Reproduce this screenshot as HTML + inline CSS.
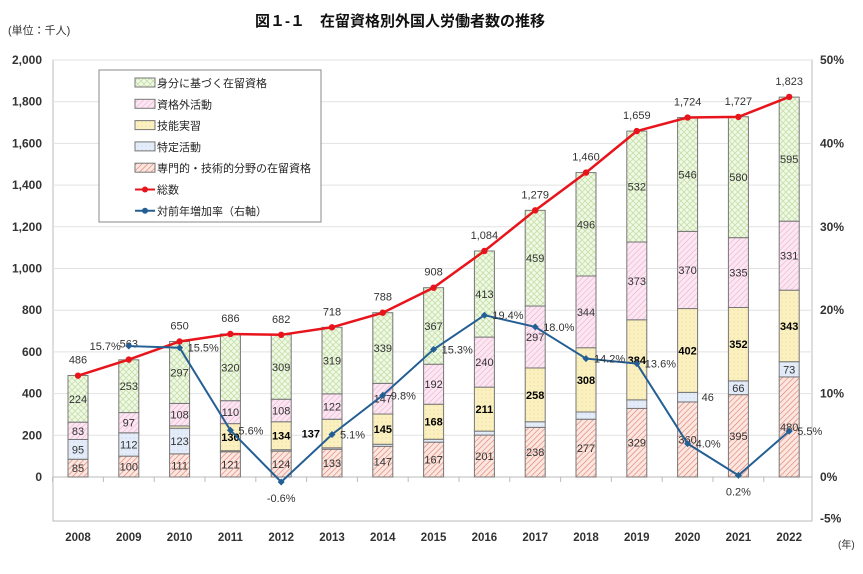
<!DOCTYPE html>
<html><head><meta charset="utf-8">
<style>
body{margin:0;background:#fff;}
svg text{font-family:"Liberation Sans","Noto Sans CJK JP",sans-serif;}
</style></head>
<body>
<svg id="chart" width="863" height="569" xmlns="http://www.w3.org/2000/svg">
<defs>
<pattern id="pRed" width="4" height="4" patternUnits="userSpaceOnUse" patternTransform="rotate(45)"><rect width="4" height="4" fill="#fbe6e0"/><line x1="0" y1="0" x2="0" y2="4" stroke="#e07a68" stroke-width="1.2"/></pattern>
<pattern id="pBlue" width="4" height="4" patternUnits="userSpaceOnUse"><rect width="4" height="4" fill="#e3ecf8"/><circle cx="2" cy="2" r="0.5" fill="#b8c8e0"/></pattern>
<pattern id="pYel" width="4" height="4" patternUnits="userSpaceOnUse"><rect width="4" height="4" fill="#fbf0c0"/><circle cx="2" cy="2" r="0.5" fill="#e0cc80"/></pattern>
<pattern id="pPink" width="4" height="4" patternUnits="userSpaceOnUse" patternTransform="rotate(45)"><rect width="4" height="4" fill="#fbe6f2"/><line x1="0" y1="0" x2="0" y2="4" stroke="#eaa8cc" stroke-width="1"/></pattern>
<pattern id="pGreen" width="6" height="6" patternUnits="userSpaceOnUse"><rect width="6" height="6" fill="#f0f8e6"/><path d="M0 0L6 6M6 0L0 6" stroke="#c6e0a8" stroke-width="0.8"/></pattern>
</defs>
<text x="400" y="26" font-size="15" font-weight="bold" text-anchor="middle" fill="#111">図１-１　在留資格別外国人労働者数の推移</text>
<text x="8" y="34" font-size="11" fill="#333">(単位：千人)</text>
<g id="g"></g>
</svg>
<script>
const years=["2008","2009","2010","2011","2012","2013","2014","2015","2016","2017","2018","2019","2020","2021","2022"];
const senmon=[85,100,111,121,124,133,147,167,201,238,277,329,360,395,480];
const tokutei=[95,112,123,5,7,7,10,14,19,27,35,41,46,66,73];
const ginou=[0,0,11,130,134,137,145,168,211,258,308,384,402,352,343];
const shikakugai=[83,97,108,110,108,122,147,192,240,297,344,373,370,335,331];
const mibun=[224,253,297,320,309,319,339,367,413,459,496,532,546,580,595];
const totals=[486,563,650,686,682,718,788,908,1084,1279,1460,1659,1724,1727,1823];
const growth=[null,15.7,15.5,5.6,-0.6,5.1,9.8,15.3,19.4,18.0,14.2,13.6,4.0,0.2,5.5];
const leftTicks=[0,200,400,600,800,1000,1200,1400,1600,1800,2000];
const rightTicks=[-5,0,10,20,30,40,50];
const showTokutei=[true,true,true,false,false,false,false,false,false,false,false,false,true,true,true];
const showGinou=[false,false,false,true,true,true,true,true,true,true,true,true,true,true,true];

const NS="http://www.w3.org/2000/svg";
const g=document.getElementById('g');
const X0=53,X1=812,Y0=477,YT=60,YB=521;
const xc=i=>78+i*50.8;
const y=v=>Y0-v*(Y0-YT)/2000;
const yr=p=>Y0-p*(Y0-YT)/50;
function mk(t,a,txt){const e=document.createElementNS(NS,t);for(const k in a)e.setAttribute(k,a[k]);if(txt!==undefined)e.textContent=txt;g.appendChild(e);return e;}
const fmt=n=>n.toLocaleString('en-US');

let e=mk('rect',{x:X0,y:YT,width:X1-X0,height:YB-YT,fill:'none',stroke:'#bbb'});

leftTicks.forEach(v=>{
 if(v>0){e=mk('line',{x1:X0,x2:X1,y1:y(v),y2:y(v),stroke:'#e2e2e2'});}
 e=mk('text',{x:42,y:y(v)+4,'font-size':12,'text-anchor':'end',fill:'#333','font-weight':'bold'},fmt(v));
 
});
e=mk('line',{x1:X0,x2:X1,y1:Y0,y2:Y0,stroke:'#bbb'});
rightTicks.forEach(p=>{
 e=mk('text',{x:820,y:yr(p)+4,'font-size':12,fill:'#333','font-weight':'bold'},p+'%');
 
});
years.forEach((yy,i)=>{
 e=mk('line',{x1:xc(i)-25.4,x2:xc(i)-25.4,y1:Y0,y2:Y0+5,stroke:'#bbb'});
 e=mk('text',{x:xc(i),y:541,'font-size':11.5,'text-anchor':'middle',fill:'#333','font-weight':'bold'},yy);
 
});
e=mk('text',{x:838,y:548,'font-size':10,fill:'#333'},'(年)');

const series=[[senmon,'url(#pRed)','senmon'],[tokutei,'url(#pBlue)','tokutei'],[ginou,'url(#pYel)','ginou'],[shikakugai,'url(#pPink)','shikakugai'],[mibun,'url(#pGreen)','mibun']];
years.forEach((yy,i)=>{
 let base=0;
 series.forEach(([arr,fill,nm],si)=>{
  const v=arr[i];
  e=mk('rect',{x:xc(i)-10,y:y(base+v),width:20,height:Math.max(0,y(base)-y(base+v)),fill:fill,stroke:'#777','stroke-width':1});
  
  const mid=(y(base)+y(base+v))/2+4;
  let show=true,lx=xc(i),anchor='middle',bold=false;
  if(si===1){show=showTokutei[i];if(i>=12&&i===12){lx=xc(i)+14;anchor='start';}}
  if(si===2){show=showGinou[i];bold=true;if(i===5){lx=xc(i)-12;anchor='end';}}
  if(show){e=mk('text',{x:lx,y:mid,'font-size':11,'text-anchor':anchor,fill:bold?'#000':'#333','font-weight':bold?'bold':'normal'},v);
   }
  base+=v;
 });
 e=mk('text',{x:xc(i),y:y(totals[i])-12,'font-size':11,'text-anchor':'middle',fill:'#333'},fmt(totals[i]));
 
});
// total line
e=mk('polyline',{points:totals.map((v,i)=>xc(i)+','+y(v)).join(' '),fill:'none',stroke:'#e8141c','stroke-width':2.5});

totals.forEach((v,i)=>{e=mk('circle',{cx:xc(i),cy:y(v),r:3.2,fill:'#e8141c'});});
// growth line
const gp=growth.map((p,i)=>p===null?null:[xc(i),yr(p)]).filter(a=>a);
e=mk('polyline',{points:gp.map(a=>a.join(',')).join(' '),fill:'none',stroke:'#245f94','stroke-width':2});

growth.forEach((p,i)=>{
 if(p===null)return;
 e=mk('path',{d:`M${xc(i)-3.5} ${yr(p)}L${xc(i)} ${yr(p)-3.5}L${xc(i)+3.5} ${yr(p)}L${xc(i)} ${yr(p)+3.5}Z`,fill:'#245f94'});
 
 let lx=xc(i)+8,ly=yr(p)+4,an='start';
 if(i===1){lx=xc(i)-8;an='end';}
 if(i===4||i===13){lx=xc(i);ly=yr(p)+20;an='middle';}
 e=mk('text',{x:lx,y:ly,'font-size':11,'text-anchor':an,fill:'#333'},p.toFixed(1)+'%');
 
});
// legend
e=mk('rect',{x:99,y:70,width:222,height:152,fill:'#fff',stroke:'#888'});
const leg=[['身分に基づく在留資格','url(#pGreen)'],['資格外活動','url(#pPink)'],['技能実習','url(#pYel)'],['特定活動','url(#pBlue)'],['専門的・技術的分野の在留資格','url(#pRed)'],['総数','#e8141c'],['対前年増加率（右軸）','#245f94']];
leg.forEach(([t,c],k)=>{
 const ly=83+k*21.3;
 if(k<5){e=mk('rect',{x:135,y:ly-5,width:20,height:9,fill:c,stroke:'#777'});}
 else{mk('line',{x1:135,x2:155,y1:ly,y2:ly,stroke:c,'stroke-width':2});e=mk('circle',{cx:145,cy:ly,r:3,fill:c});}
 
 e=mk('text',{x:157,y:ly+4,'font-size':11,fill:'#222'},t);
 
});
</script>
</body></html>
